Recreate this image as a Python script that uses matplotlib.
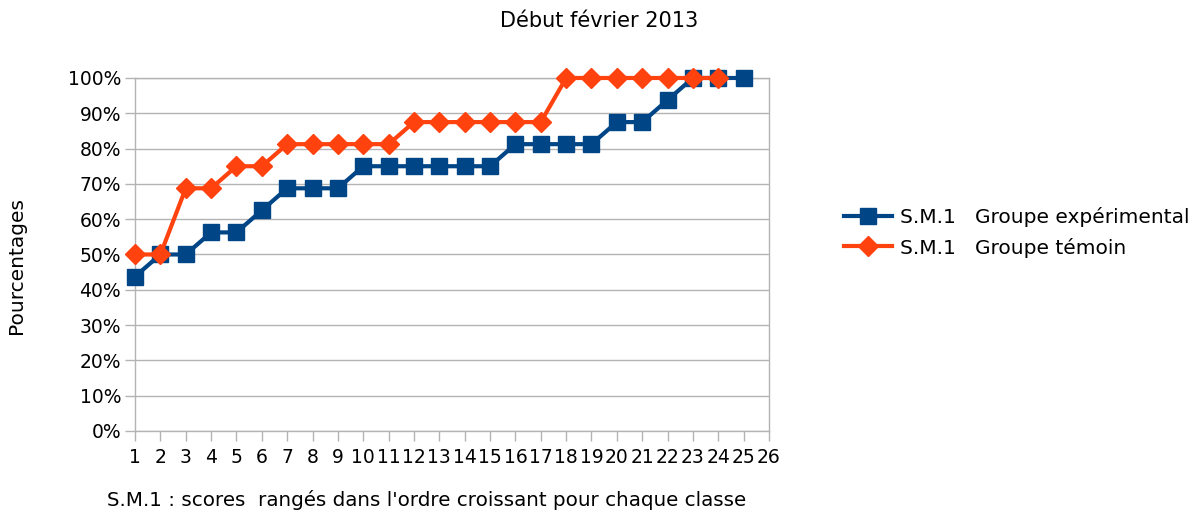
import matplotlib.pyplot as plt
from matplotlib.ticker import PercentFormatter

plt.rcParams['font.family'] = ['DejaVu Sans']

# rank positions and cumulative percentages (steps of 1/16)
ranks_exp = list(range(1, 26))
groupe_exp = [43.75, 50, 50, 56.25, 56.25, 62.5, 68.75, 68.75, 68.75, 75,
              75, 75, 75, 75, 75, 81.25, 81.25, 81.25, 81.25, 87.5,
              87.5, 93.75, 100, 100, 100]
ranks_tem = list(range(1, 25))
groupe_tem = [50, 50, 68.75, 68.75, 75, 75, 81.25, 81.25, 81.25, 81.25,
              81.25, 87.5, 87.5, 87.5, 87.5, 87.5, 87.5, 100, 100, 100,
              100, 100, 100, 100]
x_ticks = list(range(1, 27))
y_ticks = list(range(0, 101, 10))

BLUE = "#004586"
ORANGE = "#ff420e"
GRID = "#b3b3b3"

fig = plt.figure(figsize=(11.95, 5.11), dpi=100)
ax = fig.add_axes([0.113, 0.1566, 0.5305, 0.6908])

ax.plot(ranks_exp, groupe_exp, color=BLUE, lw=3, marker="s", ms=12,
        label="S.M.1   Groupe expérimental", zorder=3, clip_on=False)
ax.plot(ranks_tem, groupe_tem, color=ORANGE, lw=3, marker="D", ms=10,
        label="S.M.1   Groupe témoin", zorder=4, clip_on=False)

ax.set_xlim(1, 26)
ax.set_ylim(0, 100)
ax.set_xticks(x_ticks)
ax.set_xticklabels([str(t) for t in x_ticks])
ax.set_yticks(y_ticks)
ax.yaxis.set_major_formatter(PercentFormatter(decimals=0))
ax.tick_params(axis="both", labelsize=13.5, color=GRID, length=7, width=1,
               direction="out")
ax.tick_params(axis="x", pad=5)
ax.tick_params(axis="y", pad=3)

ax.grid(axis="y", color=GRID, lw=1)
ax.set_axisbelow(True)
for s in ax.spines.values():
    s.set_color(GRID)
    s.set_linewidth(1)

fig.text(0.501, 0.958, "Début février 2013", ha="center", va="center",
         fontsize=15)
fig.text(0.014, 0.481, "Pourcentages", rotation=90, ha="center", va="center",
         fontsize=14.5)
fig.text(0.0895, 0.022, "S.M.1 : scores  rangés dans l'ordre croissant pour chaque classe",
         ha="left", va="center", fontsize=14.3)

fig.legend(loc="center left", bbox_to_anchor=(0.691, 0.545), frameon=False,
           fontsize=14.5, handlelength=2.4, handletextpad=0.4, labelspacing=0.5)

fig.savefig("out.png", dpi=100)
